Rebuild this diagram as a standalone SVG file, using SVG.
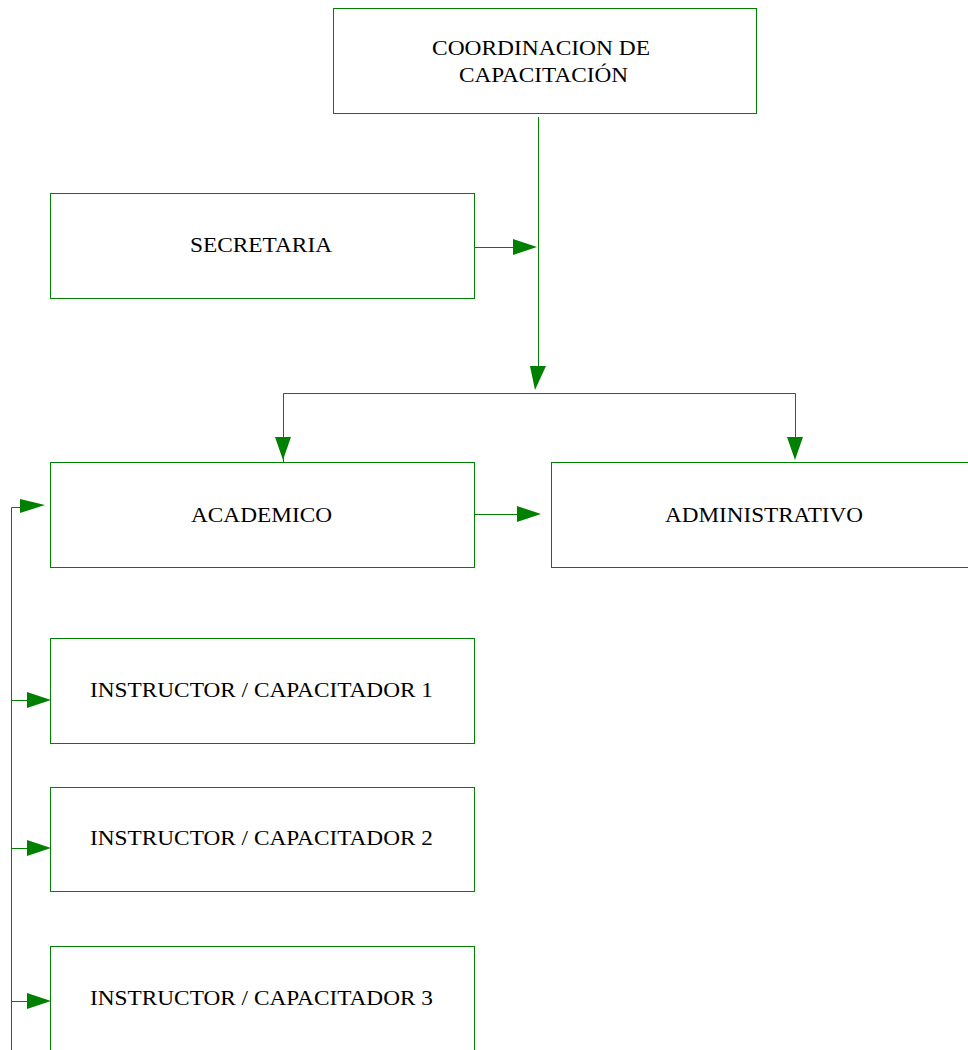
<svg xmlns="http://www.w3.org/2000/svg" width="968" height="1050" viewBox="0 0 968 1050">
<style>
.box{fill:#fff;stroke:#008000;stroke-width:1}
.ln{fill:none;stroke:#008000;stroke-width:1}
.ah{fill:#008000;stroke:none}
text{font-family:"Liberation Serif","Times New Roman",serif;font-size:21.5px;fill:#000;text-anchor:middle}
</style>
<rect width="968" height="1050" fill="#fff"/>
<g id="coordinacion"><rect class="box" x="333.5" y="8.5" width="423" height="105"/><text x="541" y="55" textLength="218" lengthAdjust="spacingAndGlyphs">COORDINACION DE</text><text x="543.5" y="82" textLength="169" lengthAdjust="spacingAndGlyphs">CAPACITACIÓN</text></g>
<g id="secretaria"><rect class="box" x="50.5" y="193.5" width="424" height="105"/><text x="261" y="252" textLength="142" lengthAdjust="spacingAndGlyphs">SECRETARIA</text></g>
<g id="academico"><rect class="box" x="50.5" y="462.5" width="424" height="105"/><text x="261.5" y="522" textLength="141" lengthAdjust="spacingAndGlyphs">ACADEMICO</text></g>
<g id="administrativo"><rect class="box" x="551.5" y="462.5" width="430" height="105"/><text x="764" y="522" textLength="198" lengthAdjust="spacingAndGlyphs">ADMINISTRATIVO</text></g>
<g id="instructor1"><rect class="box" x="50.5" y="638.5" width="424" height="105"/><text x="261.5" y="697" textLength="343" lengthAdjust="spacingAndGlyphs">INSTRUCTOR / CAPACITADOR 1</text></g>
<g id="instructor2"><rect class="box" x="50.5" y="787.5" width="424" height="104"/><text x="261.5" y="845" textLength="343" lengthAdjust="spacingAndGlyphs">INSTRUCTOR / CAPACITADOR 2</text></g>
<g id="instructor3"><rect class="box" x="50.5" y="946.5" width="424" height="120"/><text x="261.5" y="1005" textLength="343" lengthAdjust="spacingAndGlyphs">INSTRUCTOR / CAPACITADOR 3</text></g>
<g id="connectors">
<path class="ln" d="M538.5 117 V368"/>
<polygon class="ah" points="530,366 546,366 535,390"/>
<path class="ln" d="M474 247.5 H515"/>
<polygon class="ah" points="513,239 537,247 513,255"/>
<path class="ln" d="M283.5 462 V393.5 H795.5 V440"/>
<polygon class="ah" points="275,437 291,437 283,460"/>
<polygon class="ah" points="787,437 803,437 795,460"/>
<path class="ln" d="M474 514.5 H520"/>
<polygon class="ah" points="517,506 541,514 517,522"/>
<path class="ln" d="M11.5 1050 V507.5 H22"/>
<polygon class="ah" points="20,499 45,505 20,513"/>
<path class="ln" d="M11.5 700.5 H28"/>
<polygon class="ah" points="27,692 51,700 27,708"/>
<path class="ln" d="M11.5 848.5 H28"/>
<polygon class="ah" points="27,840 51,848 27,856"/>
<path class="ln" d="M11.5 1001.5 H28"/>
<polygon class="ah" points="27,993 51,1001 27,1009"/>
</g>
</svg>
